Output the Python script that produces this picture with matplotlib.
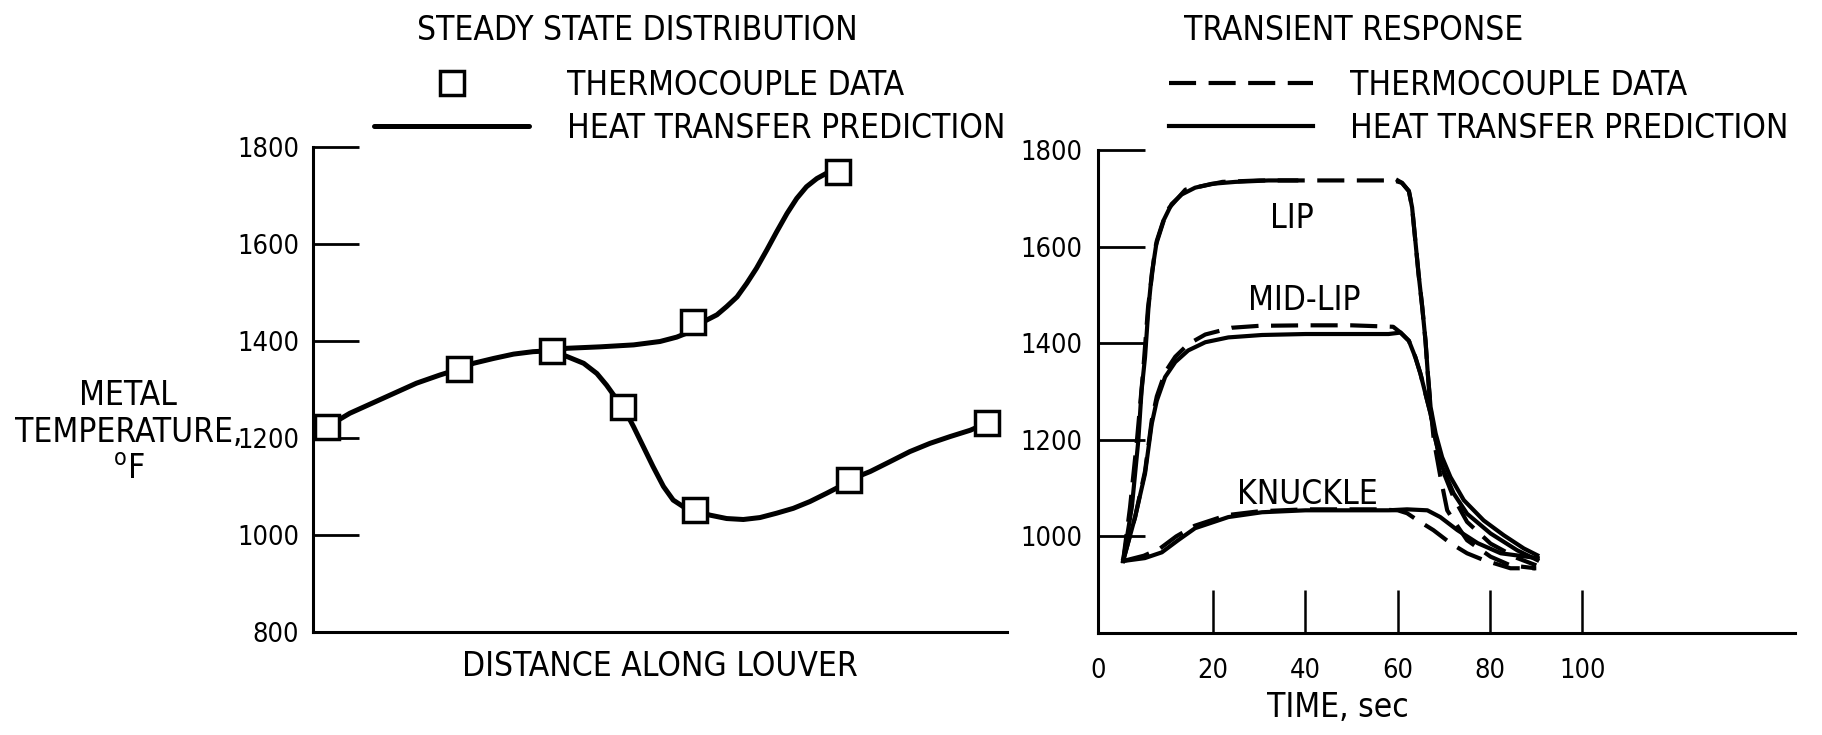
import numpy as np
import matplotlib
matplotlib.use('Agg')
import matplotlib.pyplot as plt
from matplotlib import font_manager

# --- steady state distribution (distance along louver, arbitrary units 0-100) ---
tc_dist_lower = [2.0, 21.0, 34.4, 44.7, 55.0, 77.2, 97.1]
tc_temp_lower = [1223, 1342, 1379, 1264, 1052, 1113, 1231]
tc_dist_upper = [54.7, 75.6]
tc_temp_upper = [1439, 1748]

pred_dist_lower = [2.0, 5.3, 10.1, 14.9, 18.3, 21.0, 23.1, 26.0, 28.9, 31.7, 34.4,
                   36.6, 39.0, 40.9, 42.3, 43.5, 44.7, 46.2, 47.6, 49.0, 50.5, 51.9,
                   53.4, 55.0, 57.2, 59.6, 62.0, 64.4, 66.8, 69.2, 71.6, 74.0, 75.9,
                   77.2, 80.3, 83.1, 86.0, 88.9, 91.8, 94.7, 97.1]
pred_temp_lower = [1223, 1251, 1282, 1313, 1330, 1342, 1354, 1364, 1373, 1378, 1380,
                   1368, 1354, 1333, 1309, 1285, 1264, 1223, 1182, 1141, 1100, 1072,
                   1058, 1050, 1041, 1034, 1032, 1036, 1045, 1055, 1069, 1086, 1100,
                   1113, 1131, 1151, 1172, 1189, 1203, 1216, 1231]
pred_dist_upper = [34.4, 36.6, 41.4, 46.2, 50.0, 52.4, 53.8, 54.7, 56.7, 58.2, 59.6,
                   61.1, 62.5, 63.9, 65.4, 66.8, 68.3, 69.7, 71.1, 72.6, 74.0, 75.6]
pred_temp_upper = [1380, 1385, 1388, 1392, 1399, 1408, 1416, 1428, 1443, 1454, 1471,
                   1491, 1519, 1550, 1588, 1625, 1663, 1694, 1718, 1735, 1746, 1748]

# --- transient response (time in sec, temperature in deg F) ---
lip_pred_time = [0.5, 2.4, 3.8, 4.5, 5.25, 6.0, 6.7, 7.8, 9.2, 11.0, 13.2, 16.1, 19.7,
                 24.8, 32.0, 38.0, np.nan,
                 60.0, 60.9, 62.4, 63.1, 63.8, 64.5, 65.3, 66.0, 66.5, 67.1, 68.2,
                 69.6, 71.4, 74.3, 78.6, 83.0, 87.3, 90.2]
lip_pred_temp = [949, 1061, 1199, 1302, 1371, 1474, 1543, 1612, 1653, 1688, 1708, 1722,
                 1730, 1734, 1737, 1737, np.nan,
                 1737, 1732, 1715, 1681, 1612, 1543, 1474, 1405, 1337, 1268, 1213,
                 1164, 1123, 1075, 1033, 1002, 975, 961]
lip_tc_time = [0.5, 2.0, 3.5, 4.8, 5.9, 7.5, 10.0, 14.0, 22.0, 30.0, 40.0, 50.0, 59.1,
               60.9, 62.4, 63.1, 63.8, 64.5, 65.3, 66.0, 66.5, 67.1, 67.8, 69.2, 70.7,
               72.1, 75.0, 80.1, 84.4, 89.8]
lip_tc_temp = [949, 1060, 1199, 1337, 1474, 1600, 1675, 1718, 1734, 1737, 1737, 1737,
               1737, 1732, 1715, 1681, 1612, 1543, 1474, 1405, 1337, 1268, 1199, 1125,
               1054, 1033, 992, 958, 940, 934]

midlip_pred_time = [0.5, 3.1, 5.25, 6.7, 7.8, 9.6, 11.8, 14.6, 18.3, 23.3, 30.6, 40.0,
                    58.0, 60.6, 62.4, 63.8, 64.9, 66.0, 67.1, 68.2, 69.6, 72.1, 75.0,
                    80.1, 85.9, 90.2]
midlip_pred_temp = [949, 1040, 1130, 1233, 1281, 1330, 1361, 1385, 1402, 1412, 1417,
                    1419, 1419, 1422, 1405, 1371, 1337, 1295, 1254, 1199, 1144, 1089,
                    1047, 1006, 971, 951]
midlip_tc_time = [0.5, 3.1, 5.25, 6.7, 7.8, 9.6, 11.8, 14.6, 18.3, 24.0, 30.0, 40.0,
                  50.0, 59.0, 60.6, 62.4, 63.8, 64.9, 66.0, 67.1, 68.2, 69.6, 72.1,
                  75.0, 80.1, 85.9, 90.0]
midlip_tc_temp = [949, 1040, 1135, 1240, 1290, 1340, 1372, 1398, 1418, 1432, 1436,
                  1437, 1437, 1434, 1422, 1405, 1371, 1337, 1295, 1254, 1199, 1140,
                  1080, 1030, 985, 955, 940]

knuckle_pred_time = [0.5, 5.2, 8.9, 12.4, 16.1, 23.3, 30.6, 40.0, 58.0, 62.0, 66.4,
                     69.2, 72.9, 77.3, 82.3, 90.3]
knuckle_pred_temp = [949, 955, 967, 992, 1017, 1040, 1050, 1054, 1054, 1056, 1054,
                     1040, 1013, 986, 965, 955]
knuckle_tc_time = [0.5, 5.0, 8.5, 12.0, 16.0, 23.0, 30.0, 40.0, 55.0, 60.0, 62.0, 64.5,
                   67.7, 71.4, 75.0, 78.6, 84.4, 90.0]
knuckle_tc_temp = [949, 960, 975, 1000, 1022, 1044, 1052, 1056, 1056, 1054, 1048, 1032,
                   1013, 986, 965, 951, 934, 934]

curve_labels = ['LIP', 'MID-LIP', 'KNUCKLE']
curve_label_pos = [(37.1, 1659), (39.7, 1488), (40.4, 1087)]

time_ticks = [20, 40, 60, 80, 100]
temp_ticks = [800, 1000, 1200, 1400, 1600, 1800]

# narrow typewriter-like lettering if a narrow face is present
ttf = font_manager.fontManager.ttflist
names = {f.name for f in ttf}
STRETCH = 'normal'
if 'Liberation Sans Narrow' in names:
    FONT, FS, FS_TICK = 'Liberation Sans Narrow', 24, 21
elif any(f.name == 'DejaVu Sans' and f.stretch == 'condensed' for f in ttf):
    FONT, FS, FS_TICK, STRETCH = 'DejaVu Sans', 24, 19.5, 'condensed'
else:
    FONT, FS, FS_TICK = 'DejaVu Sans', 22.3, 17.6

plt.rcParams['font.family'] = [FONT, 'DejaVu Sans']
plt.rcParams['font.stretch'] = STRETCH
plt.rcParams['mathtext.fontset'] = 'custom'
plt.rcParams['mathtext.rm'] = FONT

FS_PX = FS * 100 / 72

fig = plt.figure(figsize=(18.22, 7.35), dpi=100)
ax1 = fig.add_axes([0.1718, 0.1401, 0.3809, 0.6599])
ax2 = fig.add_axes([0.6026, 0.1388, 0.3825, 0.6571])

for ax in (ax1, ax2):
    for side in ('top', 'right'):
        ax.spines[side].set_visible(False)
    for side in ('left', 'bottom'):
        ax.spines[side].set_linewidth(2.2)
    ax.set_ylim(800, 1800)

# ---------------- left: steady state ----------------
ax1.plot(pred_dist_lower, pred_temp_lower, color='black', lw=3.6,
         solid_capstyle='round', solid_joinstyle='round', label='HEAT TRANSFER PREDICTION')
ax1.plot(pred_dist_upper, pred_temp_upper, color='black', lw=3.6,
         solid_capstyle='round', solid_joinstyle='round')
tc_handle, = ax1.plot(tc_dist_lower + tc_dist_upper, tc_temp_lower + tc_temp_upper,
                      ls='none', marker='s', ms=17.5, mfc='white', mec='black', mew=2.5,
                      zorder=3, label='THERMOCOUPLE DATA')
ax1.set_xlim(0, 100)
ax1.set_xticks([])
ax1.set_yticks(temp_ticks)
ax1.set_yticklabels([str(v) for v in temp_ticks])
ax1.tick_params(axis='y', direction='in', length=33, width=2.0, pad=10,
                labelsize=FS_TICK)
ax1.set_xlabel('DISTANCE ALONG LOUVER', fontsize=FS, labelpad=13)
ax1.set_ylabel('METAL\nTEMPERATURE,\n$^{\\rm o}$F', rotation=0, fontsize=FS,
               ha='center', va='center', linespacing=1.15)
ax1.yaxis.set_label_coords(-0.266, 0.412)

# ---------------- right: transient response ----------------
dash = (0, (6.5, 3))
ax2.plot(lip_tc_time, lip_tc_temp, color='black', lw=3.0, ls=dash,
         label='THERMOCOUPLE DATA')
ax2.plot(midlip_tc_time, midlip_tc_temp, color='black', lw=3.0, ls=dash)
ax2.plot(knuckle_tc_time, knuckle_tc_temp, color='black', lw=3.0, ls=dash)
for t, v, lab in [(lip_pred_time, lip_pred_temp, 'HEAT TRANSFER PREDICTION'),
                  (midlip_pred_time, midlip_pred_temp, None),
                  (knuckle_pred_time, knuckle_pred_temp, None)]:
    ax2.plot(t, v, color='black', lw=3.0, solid_joinstyle='round', label=lab)

for name, (tx, ty) in zip(curve_labels, curve_label_pos):
    ax2.text(tx, ty, name, fontsize=FS, ha='center', va='center')

ax2.set_xlim(-4.95, 146)
ax2.set_xticks([-4.95] + time_ticks)
ax2.set_xticklabels(['0'] + [str(v) for v in time_ticks])
ax2.tick_params(axis='x', direction='in', length=31, width=1.8, pad=18,
                labelsize=FS_TICK)
ax2.xaxis.get_major_ticks()[0].tick1line.set_visible(False)
ax2.set_yticks(temp_ticks[1:])
ax2.set_yticklabels([str(v) for v in temp_ticks[1:]])
ax2.tick_params(axis='y', direction='in', length=34, width=2.0, pad=11,
                labelsize=FS_TICK)
ax2.set_xlabel('TIME, sec', fontsize=FS)
ax2.xaxis.set_label_coords(0.345, -0.12)

# ---------------- titles and legends ----------------
fig.text(637 / 1822, 1 - 40 / 735, 'STEADY STATE DISTRIBUTION', fontsize=FS,
         ha='center', va='baseline')
fig.text(1354 / 1822, 1 - 40 / 735, 'TRANSIENT RESPONSE', fontsize=FS,
         ha='center', va='baseline')

h_left = [tc_handle, ax1.get_lines()[0]]
fig.legend(handles=h_left, labels=[h.get_label() for h in h_left],
           loc='center left', bbox_to_anchor=(374 / 1822, 1 - 107 / 735),
           frameon=False, fontsize=FS, handlelength=155 / FS_PX,
           handletextpad=38 / FS_PX, labelspacing=0.3, borderpad=0,
           borderaxespad=0)
h_right = [ax2.get_lines()[0], ax2.get_lines()[3]]
fig.legend(handles=h_right, labels=[h.get_label() for h in h_right],
           loc='center left', bbox_to_anchor=(1169 / 1822, 1 - 107 / 735),
           frameon=False, fontsize=FS, handlelength=144 / FS_PX,
           handletextpad=37 / FS_PX, labelspacing=0.3, borderpad=0,
           borderaxespad=0)

fig.savefig('out.png', dpi=100, facecolor='white')
